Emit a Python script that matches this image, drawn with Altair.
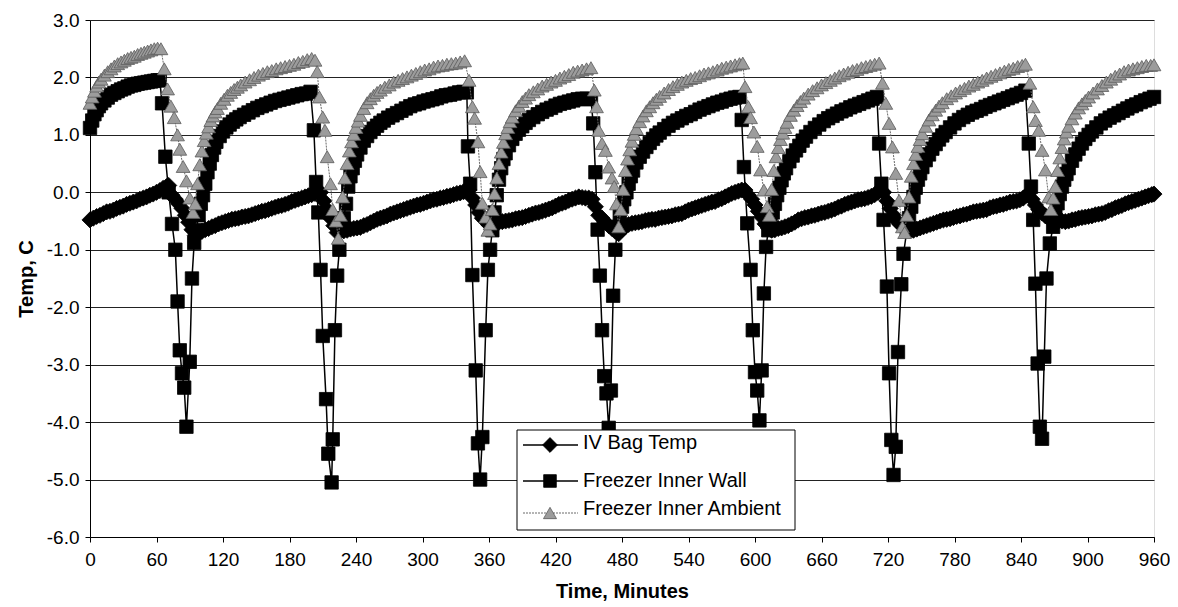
import altair as alt
import pandas as pd

# ---------------- data, (minute, temp C) ----------------
series_names = ["IV Bag Temp", "Freezer Inner Wall", "Freezer Inner Ambient"]

iv_points = [
    (0, -0.48), (3, -0.45), (6, -0.42), (9, -0.40), (12, -0.37), (15, -0.34), (18, -0.33), (21, -0.31),
    (24, -0.28), (27, -0.26), (30, -0.24), (33, -0.21), (36, -0.19), (39, -0.17), (42, -0.15), (45, -0.12),
    (48, -0.10), (51, -0.08), (54, -0.05), (57, -0.03), (60, 0.00), (63, 0.03), (66, 0.07), (69, 0.10), (71, 0.12),
    (74, -0.05), (77, -0.12), (80, -0.20), (83, -0.28), (86, -0.40), (89, -0.52), (92, -0.65), (95, -0.75),
    (98, -0.72), (101, -0.68), (104, -0.65), (107, -0.63), (110, -0.60), (113, -0.58), (116, -0.55), (119, -0.53),
    (122, -0.51), (125, -0.49), (128, -0.47), (131, -0.46), (134, -0.45), (137, -0.43), (140, -0.42), (143, -0.41),
    (146, -0.39), (149, -0.37), (152, -0.35), (155, -0.33), (158, -0.32), (161, -0.30), (164, -0.28), (167, -0.26),
    (170, -0.24), (173, -0.23), (176, -0.21), (179, -0.19), (182, -0.16), (185, -0.14), (188, -0.12), (191, -0.10),
    (194, -0.08), (197, -0.06), (200, -0.04), (203, -0.02), (206, 0.00), (208, 0.00),
    (211, -0.15), (214, -0.30), (217, -0.45), (220, -0.58), (223, -0.70), (226, -0.68),
    (229, -0.67), (232, -0.66), (235, -0.64), (238, -0.63), (241, -0.62), (244, -0.61), (247, -0.58), (250, -0.56),
    (253, -0.53), (256, -0.50), (259, -0.47), (262, -0.45), (265, -0.43), (268, -0.41), (271, -0.38), (274, -0.36),
    (277, -0.34), (280, -0.32), (283, -0.30), (286, -0.28), (289, -0.26), (292, -0.24), (295, -0.22), (298, -0.21),
    (301, -0.19), (304, -0.17), (307, -0.15), (310, -0.13), (313, -0.12), (316, -0.10), (319, -0.09), (322, -0.07),
    (325, -0.06), (328, -0.04), (331, -0.02), (334, -0.01), (337, 0.01), (340, 0.03), (342, 0.04),
    (345, -0.10), (348, -0.22), (351, -0.35), (354, -0.45), (357, -0.50), (360, -0.57), (363, -0.56),
    (366, -0.54), (369, -0.52), (372, -0.51), (375, -0.50), (378, -0.49), (381, -0.48), (384, -0.46), (387, -0.45),
    (390, -0.44), (393, -0.42), (396, -0.40), (399, -0.38), (402, -0.36), (405, -0.35), (408, -0.33), (411, -0.31),
    (414, -0.29), (417, -0.27), (420, -0.24), (423, -0.21), (426, -0.19), (429, -0.17), (432, -0.14), (435, -0.12),
    (438, -0.10), (441, -0.08), (444, -0.09), (447, -0.10), (450, -0.10), (453, -0.12),
    (456, -0.25), (459, -0.40), (462, -0.45), (465, -0.52), (468, -0.58), (471, -0.63), (474, -0.68), (477, -0.72),
    (480, -0.65), (483, -0.60), (486, -0.56), (489, -0.54), (492, -0.53), (495, -0.52), (498, -0.51), (501, -0.49),
    (504, -0.48), (507, -0.47), (510, -0.47), (513, -0.45), (516, -0.44), (519, -0.43), (522, -0.42), (525, -0.41),
    (528, -0.39), (531, -0.38), (534, -0.37), (537, -0.34), (540, -0.31), (543, -0.29), (546, -0.27), (549, -0.25),
    (552, -0.23), (555, -0.21), (558, -0.19), (561, -0.17), (564, -0.16), (567, -0.13), (570, -0.11), (573, -0.08),
    (576, -0.05), (579, -0.02), (582, 0.00), (585, 0.02), (588, 0.04), (591, 0.04),
    (594, -0.05), (597, -0.12), (600, -0.22), (603, -0.33), (606, -0.43), (609, -0.55), (612, -0.62), (615, -0.66),
    (618, -0.65), (621, -0.63), (624, -0.62), (627, -0.60), (630, -0.58), (633, -0.55), (636, -0.52), (639, -0.48),
    (642, -0.46), (645, -0.44), (648, -0.43), (651, -0.41), (654, -0.40), (657, -0.38), (660, -0.36), (663, -0.35),
    (666, -0.33), (669, -0.31), (672, -0.29), (675, -0.26), (678, -0.24), (681, -0.21), (684, -0.19), (687, -0.17),
    (690, -0.15), (693, -0.13), (696, -0.12), (699, -0.11), (702, -0.09), (705, -0.07), (708, -0.04), (711, 0.00),
    (713, 0.05), (716, 0.00),
    (719, -0.15), (722, -0.28), (725, -0.40), (728, -0.50), (731, -0.56), (734, -0.60), (737, -0.64), (740, -0.66),
    (743, -0.66), (746, -0.64), (749, -0.62), (752, -0.60), (755, -0.58), (758, -0.56), (761, -0.54), (764, -0.52),
    (767, -0.50), (770, -0.48), (773, -0.47), (776, -0.46), (779, -0.44), (782, -0.42), (785, -0.41), (788, -0.39),
    (791, -0.38), (794, -0.36), (797, -0.34), (800, -0.33), (803, -0.32), (806, -0.31), (809, -0.30), (812, -0.27),
    (815, -0.25), (818, -0.24), (821, -0.22), (824, -0.21), (827, -0.19), (830, -0.17), (833, -0.16), (836, -0.15),
    (839, -0.13), (842, -0.10), (845, -0.05), (847, -0.02),
    (850, -0.12), (853, -0.22), (856, -0.30), (859, -0.36), (862, -0.41), (865, -0.45), (868, -0.47), (871, -0.48),
    (874, -0.50), (877, -0.50), (880, -0.51), (883, -0.50), (886, -0.48), (889, -0.47), (892, -0.45), (895, -0.44),
    (898, -0.43), (901, -0.42), (904, -0.41), (907, -0.39), (910, -0.38), (913, -0.37), (916, -0.35), (919, -0.32),
    (922, -0.30), (925, -0.27), (928, -0.25), (931, -0.23), (934, -0.20), (937, -0.18), (940, -0.16), (943, -0.14),
    (946, -0.12), (949, -0.10), (952, -0.08), (955, -0.06), (958, -0.04), (960, -0.03),
]

wall_points = [
    (0, 1.12), (2, 1.25), (4, 1.36), (6, 1.43), (8, 1.50), (10, 1.55), (13, 1.60), (16, 1.65), (19, 1.70),
    (22, 1.73), (25, 1.76), (28, 1.79), (31, 1.81), (34, 1.84), (37, 1.86), (40, 1.87), (43, 1.89), (46, 1.90),
    (49, 1.91), (52, 1.92), (55, 1.93), (58, 1.94), (61, 1.95), (63, 1.95),
    (65, 1.55), (68, 0.62), (71, 0.00), (74, -0.55), (77, -1.00), (79, -1.90), (81, -2.75), (83, -3.15),
    (85, -3.40), (87, -4.08), (90, -2.95), (92, -1.50), (94, -0.88),
    (96, -0.66), (98, -0.40), (100, -0.20), (102, -0.05), (104, 0.15), (106, 0.35), (108, 0.50), (110, 0.65),
    (112, 0.78), (114, 0.88), (117, 0.98), (120, 1.06), (123, 1.13), (126, 1.18), (129, 1.23), (132, 1.27),
    (135, 1.31), (139, 1.35), (143, 1.39), (147, 1.43), (151, 1.47), (155, 1.50), (159, 1.53), (163, 1.56),
    (167, 1.59), (171, 1.61), (175, 1.63), (179, 1.65), (183, 1.67), (187, 1.69), (191, 1.71), (195, 1.72), (199, 1.75),
    (202, 1.08), (204, 0.18), (206, -0.35), (208, -1.35), (210, -2.50), (213, -3.60), (215, -4.55), (218, -5.05),
    (219, -4.30), (221, -2.40), (223, -1.45), (225, -1.00),
    (227, -0.65), (229, -0.45), (231, -0.20), (233, 0.10), (235, 0.28), (237, 0.42), (239, 0.55), (241, 0.66),
    (244, 0.78), (247, 0.90), (250, 0.98), (253, 1.05), (256, 1.11), (259, 1.16), (262, 1.21), (265, 1.25),
    (269, 1.30), (273, 1.34), (277, 1.38), (281, 1.42), (285, 1.46), (289, 1.50), (293, 1.53), (297, 1.55),
    (301, 1.58), (305, 1.60), (309, 1.62), (313, 1.64), (317, 1.67), (321, 1.69), (325, 1.70), (329, 1.72),
    (333, 1.74), (337, 1.75), (340, 1.74),
    (341, 0.80), (343, 0.15), (345, -1.44), (348, -3.10), (350, -4.37), (352, -5.00), (354, -4.26), (357, -2.40),
    (359, -1.35), (361, -1.00),
    (363, -0.66), (365, -0.35), (367, -0.05), (369, 0.22), (371, 0.42), (373, 0.58), (375, 0.68), (378, 0.82),
    (381, 0.93), (384, 1.02), (387, 1.09), (390, 1.15), (393, 1.21), (396, 1.26), (400, 1.31), (404, 1.36),
    (408, 1.40), (412, 1.44), (416, 1.47), (420, 1.51), (424, 1.54), (428, 1.56), (432, 1.58), (436, 1.60),
    (440, 1.62), (444, 1.63), (448, 1.63), (452, 1.62),
    (454, 1.20), (456, 0.35), (458, -0.65), (460, -1.45), (462, -2.40), (464, -3.20), (466, -3.50), (468, -4.10),
    (470, -3.45), (472, -1.80), (474, -1.00),
    (476, -0.60), (478, -0.42), (480, -0.25), (482, -0.12), (484, 0.00), (486, 0.15), (488, 0.28), (490, 0.38),
    (493, 0.52), (496, 0.62), (499, 0.71), (502, 0.79), (505, 0.86), (508, 0.93), (511, 0.99), (514, 1.04),
    (518, 1.10), (522, 1.16), (526, 1.21), (530, 1.25), (534, 1.29), (538, 1.33), (542, 1.36), (546, 1.40),
    (550, 1.44), (554, 1.47), (558, 1.50), (562, 1.53), (566, 1.56), (570, 1.58), (574, 1.61), (578, 1.63),
    (582, 1.65), (586, 1.66),
    (588, 1.26), (590, 0.44), (593, -0.54), (596, -1.35), (598, -2.40), (600, -3.13), (602, -3.45), (604, -3.97),
    (606, -3.10), (608, -1.76), (610, -0.95),
    (612, -0.66), (614, -0.50), (616, -0.35), (618, -0.20), (620, -0.05), (622, 0.08), (624, 0.21), (626, 0.33),
    (628, 0.42), (631, 0.54), (634, 0.64), (637, 0.73), (640, 0.81), (643, 0.90), (646, 0.97), (650, 1.05),
    (654, 1.12), (658, 1.18), (662, 1.24), (666, 1.29), (670, 1.33), (674, 1.37), (678, 1.41), (682, 1.44),
    (686, 1.48), (690, 1.51), (694, 1.54), (698, 1.57), (702, 1.60), (706, 1.63), (710, 1.66),
    (712, 0.85), (714, 0.15), (716, -0.48), (719, -1.64), (721, -3.15), (723, -4.31), (725, -4.92), (727, -4.43),
    (729, -2.78), (732, -1.60), (734, -1.07),
    (737, -0.66), (739, -0.45), (741, -0.25), (743, -0.08), (745, 0.08), (747, 0.22), (749, 0.33), (751, 0.44),
    (754, 0.56), (757, 0.66), (760, 0.76), (763, 0.84), (766, 0.92), (769, 0.99), (772, 1.05), (776, 1.13),
    (780, 1.20), (784, 1.26), (788, 1.31), (792, 1.35), (796, 1.39), (800, 1.42), (804, 1.45), (808, 1.49),
    (812, 1.52), (816, 1.55), (820, 1.58), (824, 1.61), (828, 1.64), (832, 1.67), (836, 1.70), (840, 1.73), (844, 1.77),
    (847, 0.85), (849, 0.10), (851, -0.48), (853, -1.59), (855, -2.98), (857, -4.08), (859, -4.29), (861, -2.86),
    (863, -1.50), (866, -0.89),
    (869, -0.60), (871, -0.38), (873, -0.19), (875, -0.03), (877, 0.10), (879, 0.22), (881, 0.32), (883, 0.42),
    (886, 0.55), (889, 0.66), (892, 0.76), (895, 0.85), (898, 0.93), (901, 1.00), (904, 1.06), (908, 1.13),
    (912, 1.20), (916, 1.25), (920, 1.30), (924, 1.34), (928, 1.38), (932, 1.42), (936, 1.46), (940, 1.50),
    (944, 1.53), (948, 1.57), (952, 1.60), (956, 1.63), (960, 1.66),
]

amb_points = [
    (0, 1.55), (2, 1.66), (4, 1.76), (6, 1.85), (8, 1.92), (10, 1.97), (13, 2.04), (16, 2.10), (19, 2.15),
    (22, 2.20), (25, 2.24), (28, 2.27), (31, 2.30), (34, 2.33), (37, 2.35), (40, 2.37), (43, 2.40), (46, 2.42),
    (49, 2.44), (52, 2.46), (55, 2.48), (58, 2.50), (61, 2.51), (64, 2.50),
    (67, 2.15), (70, 1.80), (73, 1.50), (76, 1.30), (79, 1.00), (81, 0.75), (84, 0.45), (87, 0.20), (90, -0.10),
    (93, -0.35), (95, -0.20),
    (97, 0.15), (99, 0.48), (101, 0.72), (103, 0.90), (105, 1.03), (107, 1.14), (109, 1.25), (111, 1.33),
    (113, 1.40), (115, 1.46), (118, 1.55), (121, 1.62), (124, 1.69), (127, 1.74), (130, 1.79), (133, 1.83),
    (136, 1.87), (140, 1.92), (144, 1.96), (148, 2.00), (152, 2.04), (156, 2.07), (160, 2.10), (164, 2.12),
    (168, 2.15), (172, 2.17), (176, 2.19), (180, 2.21), (184, 2.23), (188, 2.26), (192, 2.28), (196, 2.31),
    (200, 2.33), (203, 2.30),
    (205, 2.10), (207, 1.66), (210, 1.31), (212, 1.08), (214, 0.62), (217, 0.15), (219, -0.30), (222, -0.50),
    (224, -0.80),
    (226, -0.40), (228, -0.08), (230, 0.25), (232, 0.50), (234, 0.72), (236, 0.88), (238, 1.01), (240, 1.13),
    (242, 1.24), (244, 1.34), (247, 1.46), (250, 1.56), (253, 1.63), (256, 1.69), (259, 1.74), (262, 1.78),
    (266, 1.83), (270, 1.87), (274, 1.92), (278, 1.95), (282, 1.98), (286, 2.01), (290, 2.04), (294, 2.07),
    (298, 2.10), (302, 2.13), (306, 2.15), (310, 2.18), (314, 2.20), (318, 2.21), (322, 2.23), (326, 2.24),
    (330, 2.25), (334, 2.27), (338, 2.29),
    (342, 1.95), (345, 1.49), (347, 1.29), (350, 0.88), (352, 0.36), (354, -0.19), (357, -0.43), (359, -0.66),
    (361, -0.55), (363, -0.30), (365, -0.02), (367, 0.25), (369, 0.50), (371, 0.70), (373, 0.87), (375, 1.02),
    (377, 1.13), (379, 1.23), (381, 1.31), (384, 1.42), (387, 1.50), (390, 1.58), (393, 1.64), (396, 1.70),
    (400, 1.75), (404, 1.80), (408, 1.85), (412, 1.88), (416, 1.92), (420, 1.95), (424, 1.99), (428, 2.02),
    (432, 2.05), (436, 2.09), (440, 2.11), (444, 2.13), (448, 2.15), (452, 2.17),
    (455, 1.78), (457, 1.49), (459, 1.08), (462, 0.85), (465, 0.73), (468, 0.44), (471, 0.25), (473, 0.10),
    (475, -0.20), (477, -0.60),
    (479, -0.30), (481, 0.05), (483, 0.38), (485, 0.58), (487, 0.74), (489, 0.89), (491, 1.01), (493, 1.11),
    (496, 1.23), (499, 1.33), (502, 1.42), (505, 1.49), (508, 1.56), (511, 1.62), (514, 1.67), (518, 1.73),
    (522, 1.79), (526, 1.84), (530, 1.88), (534, 1.92), (538, 1.95), (542, 1.98), (546, 2.00), (550, 2.03),
    (554, 2.06), (558, 2.08), (562, 2.10), (566, 2.13), (570, 2.16), (574, 2.18), (578, 2.20), (582, 2.22),
    (586, 2.24), (589, 2.25),
    (591, 1.84), (594, 1.49), (596, 1.30), (599, 1.05), (602, 0.80), (605, 0.39), (608, 0.04), (611, -0.25),
    (613, -0.40),
    (615, 0.05), (617, 0.38), (619, 0.62), (621, 0.78), (623, 0.92), (625, 1.03), (627, 1.13), (629, 1.22),
    (632, 1.34), (635, 1.43), (638, 1.51), (641, 1.58), (644, 1.64), (648, 1.71), (652, 1.77), (656, 1.82),
    (660, 1.87), (664, 1.91), (668, 1.95), (672, 1.99), (676, 2.03), (680, 2.06), (684, 2.09), (688, 2.12),
    (692, 2.14), (696, 2.17), (700, 2.19), (704, 2.21), (708, 2.23), (712, 2.25),
    (715, 1.90), (718, 1.55), (721, 1.20), (724, 0.79), (727, 0.33), (730, -0.14), (733, -0.60), (735, -0.70),
    (737, -0.40), (739, -0.08), (741, 0.28), (743, 0.50), (745, 0.66), (747, 0.80), (749, 0.92), (751, 1.02),
    (754, 1.15), (757, 1.26), (760, 1.35), (763, 1.43), (766, 1.50), (769, 1.56), (773, 1.63), (777, 1.68),
    (781, 1.73), (785, 1.77), (789, 1.81), (793, 1.85), (797, 1.88), (801, 1.92), (805, 1.95), (809, 1.99),
    (813, 2.02), (817, 2.05), (821, 2.08), (825, 2.11), (829, 2.14), (833, 2.16), (837, 2.19), (841, 2.21),
    (844, 2.23),
    (848, 1.90), (851, 1.49), (853, 1.25), (856, 1.08), (859, 0.73), (862, 0.39), (865, -0.08), (867, -0.30),
    (869, -0.10), (871, 0.10), (873, 0.38), (875, 0.60), (877, 0.78), (879, 0.93), (881, 1.05), (883, 1.15),
    (886, 1.28), (889, 1.38), (892, 1.47), (895, 1.54), (898, 1.60), (901, 1.66), (905, 1.73), (909, 1.80),
    (913, 1.86), (917, 1.92), (921, 1.97), (925, 2.02), (929, 2.06), (933, 2.10), (937, 2.13), (941, 2.15),
    (945, 2.17), (949, 2.19), (953, 2.21), (957, 2.21), (960, 2.22),
]

y_ticks = [-6, -5, -4, -3, -2, -1, 0, 1, 2, 3]
x_ticks = [0, 60, 120, 180, 240, 300, 360, 420, 480, 540, 600, 660, 720, 780, 840, 900, 960]

FONT = "Liberation Sans"


def to_df(points, name):
    return pd.DataFrame({"t": [p[0] for p in points], "v": [p[1] for p in points], "series": name})


iv_df = to_df(iv_points, series_names[0])
wall_df = to_df(wall_points, series_names[1])
amb_df = to_df(amb_points, series_names[2])

x_enc = alt.X("t:Q",
              scale=alt.Scale(domain=[0, 960], nice=False, zero=False),
              axis=alt.Axis(values=x_ticks, title="Time, Minutes", grid=False,
                            labelFontSize=19, titleFontSize=20, titleFontWeight="bold",
                            labelFont=FONT, titleFont=FONT, labelColor="black", titleColor="black",
                            tickSize=5, tickColor="black", domainColor="black",
                            labelPadding=8, titlePadding=12, labelFlush=False))
y_enc = alt.Y("v:Q",
              scale=alt.Scale(domain=[-6, 3], nice=False, zero=False),
              axis=alt.Axis(values=y_ticks, title="Temp, C", grid=True,
                            gridColor="#222222", gridWidth=1,
                            labelExpr="(datum.value < 0 ? '-' : '') + format(abs(datum.value), '.1f')",
                            labelFontSize=19, titleFontSize=20, titleFontWeight="bold",
                            labelFont=FONT, titleFont=FONT, labelColor="black", titleColor="black",
                            tickSize=5, tickColor="black", domainColor="black",
                            labelPadding=6, titlePadding=10))

AMB_FILL = "#9c9c9c"
AMB_STROKE = "#5a5a5a"


def series_layers(df, line_color, line_width, dash, shape, fill, stroke, size):
    base = alt.Chart(df).encode(x=x_enc, y=y_enc)
    line_kw = dict(color=line_color, strokeWidth=line_width)
    if dash:
        line_kw["strokeDash"] = dash
    line = base.mark_line(**line_kw)
    pts = base.mark_point(shape=shape, filled=True, fill=fill, stroke=stroke,
                          strokeWidth=0.8, size=size, opacity=1)
    return line + pts


iv_layer = series_layers(iv_df, "black", 1.5, None, "diamond", "black", "black", 260)
wall_layer = series_layers(wall_df, "black", 1.5, None, "square", "black", "black", 180)
amb_layer = series_layers(amb_df, "#6a6a6a", 1, [2, 1], "triangle-up", AMB_FILL, AMB_STROKE, 190)

# ---------------- legend (drawn by hand, inside the plot) ----------------
one = pd.DataFrame({"k": [0]})
legend_box = alt.Chart(one).mark_rect(fill="white", stroke="black", strokeWidth=1).encode(
    x=alt.value(427), x2=alt.value(705), y=alt.value(410), y2=alt.value(510))

legend_rows = [
    (series_names[0], 425, 423, "diamond", "black", "black", "black", None, 1.5, 220),
    (series_names[1], 461, 461, "square", "black", "black", "black", None, 1.5, 160),
    (series_names[2], 493, 489, "triangle-up", AMB_FILL, AMB_STROKE, "#6a6a6a", [2, 1], 1, 170),
]
legend_layers = [legend_box]
for name, ysym, ytxt, shape, fill, stroke, lcol, dash, lw, sz in legend_rows:
    d = pd.DataFrame({"label": [name]})
    rule_kw = dict(color=lcol, strokeWidth=lw)
    if dash:
        rule_kw["strokeDash"] = dash
    legend_layers.append(alt.Chart(d).mark_rule(**rule_kw).encode(
        x=alt.value(433), x2=alt.value(488), y=alt.value(ysym)))
    legend_layers.append(alt.Chart(d).mark_point(shape=shape, filled=True, fill=fill, stroke=stroke,
                                                 strokeWidth=0.8, size=sz, opacity=1).encode(
        x=alt.value(460), y=alt.value(ysym)))
    legend_layers.append(alt.Chart(d).mark_text(align="left", baseline="middle", font=FONT,
                                                fontSize=20, color="black").encode(
        x=alt.value(493), y=alt.value(ytxt), text="label:N"))

chart = alt.layer(iv_layer, wall_layer, amb_layer, *legend_layers).properties(
    width=1064, height=517,
    autosize=alt.AutoSizeParams(type="none"),
    padding={"left": 82, "top": 12, "right": 16, "bottom": 70},
).configure_view(stroke="black", strokeWidth=1.2).configure(background="white")

chart.save("out.html", embed_options={"renderer": "svg", "actions": False})
